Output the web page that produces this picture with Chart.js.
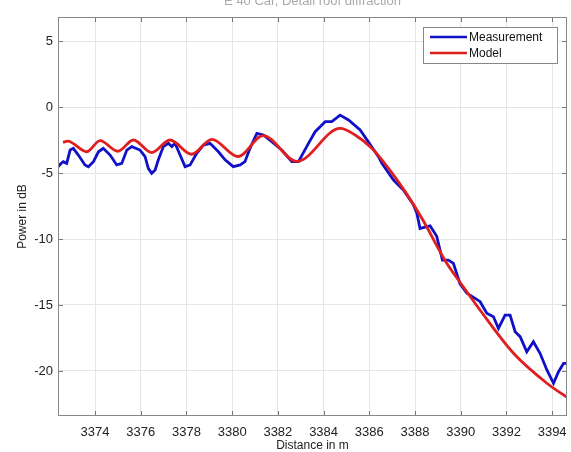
<!DOCTYPE html>
<html>
<head>
<meta charset="utf-8">
<script src="https://cdn.jsdelivr.net/npm/chart.js@4/dist/chart.umd.min.js"></script>
<style>
  html, body { margin: 0; padding: 0; background: #fff; }
  #wrap { width: 571px; height: 452px; }
</style>
</head>
<body>
<div id="wrap"><canvas id="myChart"></canvas></div>
<script>
// distance in m / power in dB
const measX = [3372.39, 3372.5, 3372.61, 3372.76, 3372.91, 3373.05, 3373.27, 3373.56, 3373.71, 3373.93,
    3374.15, 3374.36, 3374.66, 3374.95, 3375.17, 3375.39, 3375.61, 3375.97, 3376.19, 3376.33,
    3376.48, 3376.63, 3376.77, 3376.99, 3377.21, 3377.36, 3377.5, 3377.72, 3377.94, 3378.16,
    3378.45, 3378.74, 3379.03, 3379.4, 3379.69, 3380.05, 3380.35, 3380.56, 3380.78, 3381.08,
    3381.37, 3381.73, 3382.17, 3382.61, 3382.9, 3383.34, 3383.63, 3383.85, 3384.07, 3384.36,
    3384.72, 3385.09, 3385.6, 3386.04, 3386.4, 3386.55, 3387.06, 3387.49, 3387.93, 3388.08,
    3388.22, 3388.44, 3388.66, 3388.95, 3389.2, 3389.46, 3389.68, 3389.97, 3390.27, 3390.63,
    3390.85, 3391.14, 3391.43, 3391.65, 3391.94, 3392.16, 3392.38, 3392.6, 3392.89, 3393.18,
    3393.47, 3393.77, 3394.06, 3394.28, 3394.5, 3394.71];
const measY = [-4.52, -4.3, -4.14, -4.27, -3.26, -3.13, -3.64, -4.39, -4.52, -4.14,
    -3.39, -3.13, -3.64, -4.39, -4.27, -3.26, -3.0, -3.26, -3.76, -4.65,
    -5.02, -4.77, -4.0, -3.0, -2.75, -3.0, -2.75, -3.64, -4.52, -4.39,
    -3.51, -2.88, -2.75, -3.39, -4.0, -4.52, -4.39, -4.14, -3.13, -2.0,
    -2.12, -2.63, -3.26, -4.14, -4.14, -2.75, -1.87, -1.49, -1.11, -1.11,
    -0.61, -0.98, -1.74, -2.85, -3.76, -4.27, -5.53, -6.29, -7.4, -8.05,
    -9.2, -9.1, -9.0, -9.8, -11.6, -11.6, -11.84, -13.4, -14.1, -14.5,
    -14.75, -15.63, -15.89, -16.77, -15.76, -15.76, -17.02, -17.4, -18.54, -17.78,
    -18.66, -19.92, -20.93, -20.05, -19.42, -19.42];

const modelX = [3372.6, 3372.8, 3373.64, 3374.22, 3375.0, 3375.68, 3376.48, 3377.28, 3378.23, 3379.11,
    3380.26, 3381.35, 3382.84, 3384.72, 3385.38, 3386.11, 3386.84, 3387.57, 3388.3, 3389.39,
    3390.0, 3390.85, 3392.31, 3393.77, 3394.71];
const modelY = [-2.68, -2.58, -3.39, -2.55, -3.35, -2.5, -3.45, -2.5, -3.58, -2.45,
    -3.75, -2.17, -4.12, -1.62, -2.12, -3.13, -4.65, -6.41, -8.43, -11.84,
    -13.35, -15.4, -18.66, -20.93, -22.07];

const xTicks = [3374, 3376, 3378, 3380, 3382, 3384, 3386, 3388, 3390, 3392, 3394];
const yTicks = [5, 0, -5, -10, -15, -20];
const seriesNames = ['Measurement', 'Model'];
const seriesColors = ['#1010c8', '#e01e1e'];
const titleText = 'E 40 Car, Detail roof diffraction';

const FONT = "'Liberation Sans', Arial, sans-serif";

document.addEventListener('DOMContentLoaded', function () {
    let toPoints = (xs, ys) => xs.map((x, i) => ({ x: x, y: ys[i] }));

    // box, inner tick marks, legend box and the cut-off title
    const matlabFrame = {
        id: 'matlabFrame',
        afterDatasetsDraw(chart) {
            const ctx = chart.ctx;
            const a = chart.chartArea;
            const xs = chart.scales.x, ys = chart.scales.y;
            ctx.save();
            ctx.strokeStyle = '#777';
            ctx.lineWidth = 1;
            ctx.beginPath();
            xTicks.forEach(v => {
                const p = Math.round(xs.getPixelForValue(v)) + 0.5;
                ctx.moveTo(p, a.bottom); ctx.lineTo(p, a.bottom - 5);
                ctx.moveTo(p, a.top); ctx.lineTo(p, a.top + 5);
            });
            yTicks.forEach(v => {
                const p = Math.round(ys.getPixelForValue(v)) + 0.5;
                ctx.moveTo(a.left, p); ctx.lineTo(a.left + 5, p);
                ctx.moveTo(a.right, p); ctx.lineTo(a.right - 5, p);
            });
            ctx.stroke();
            ctx.strokeStyle = '#888';
            ctx.strokeRect(a.left + 0.5, a.top + 0.5, a.right - a.left - 1, a.bottom - a.top - 1);

            // legend
            const lx = a.right - 144, ly = a.top + 10;
            ctx.fillStyle = '#fff';
            ctx.fillRect(lx, ly, 134, 36);
            ctx.strokeStyle = '#888';
            ctx.strokeRect(lx + 0.5, ly + 0.5, 134, 36);
            ctx.font = '12px ' + FONT;
            ctx.textBaseline = 'middle';
            seriesNames.forEach((name, i) => {
                const y = ly + 10 + i * 16;
                ctx.strokeStyle = seriesColors[i];
                ctx.lineWidth = 2.5;
                ctx.beginPath();
                ctx.moveTo(lx + 7, y); ctx.lineTo(lx + 44, y);
                ctx.stroke();
                ctx.fillStyle = '#111';
                ctx.fillText(name, lx + 46, y + 1);
            });

            ctx.font = '13px ' + FONT;
            ctx.fillStyle = '#aaa';
            ctx.textAlign = 'center';
            ctx.textBaseline = 'alphabetic';
            ctx.fillText(titleText, (a.left + a.right) / 2, 5);
            ctx.restore();
        }
    };

    let ctx = document.getElementById('myChart').getContext('2d');
    let myChart = new Chart(ctx, {
        type: 'line',
        data: {
            datasets: [
                { label: seriesNames[0], data: toPoints(measX, measY), borderColor: seriesColors[0],
                  borderWidth: 2.8, pointRadius: 0, tension: 0, order: 1 },
                { label: seriesNames[1], data: toPoints(modelX, modelY), borderColor: seriesColors[1],
                  borderWidth: 2.8, pointRadius: 0, cubicInterpolationMode: 'monotone', order: 0 }
            ]
        },
        options: {
            responsive: true,
            maintainAspectRatio: false,
            animation: false,
            events: [],
            layout: { padding: { top: 17, right: 4, left: 0, bottom: 0 } },
            scales: {
                x: {
                    type: 'linear', min: 3372.38, max: 3394.65,
                    afterFit: s => { s.height = 36; s.paddingLeft = 0; s.paddingRight = 0; },
                    afterBuildTicks: s => { s.ticks = xTicks.map(v => ({ value: v })); },
                    grid: { color: '#e6e6e6', drawTicks: false },
                    border: { display: false },
                    ticks: { color: '#222', font: { family: FONT, size: 13 }, padding: 9,
                             maxRotation: 0, autoSkip: false, callback: v => String(v) },
                    title: { display: true, text: 'Distance in m', color: '#222',
                             font: { family: FONT, size: 12, lineHeight: 1 }, padding: { top: 0, bottom: 0 } }
                },
                y: {
                    min: -23.41, max: 6.82,
                    afterFit: s => { s.width = 58; s.paddingTop = 0; s.paddingBottom = 0; },
                    afterBuildTicks: s => { s.ticks = yTicks.map(v => ({ value: v })); },
                    grid: { color: '#e6e6e6', drawTicks: false },
                    border: { display: false },
                    ticks: { color: '#222', font: { family: FONT, size: 13 }, padding: 5,
                             callback: v => String(v) },
                    title: { display: true, text: 'Power in dB', color: '#222',
                             font: { family: FONT, size: 12, lineHeight: 1 }, padding: { top: 17, bottom: 0 } }
                }
            },
            plugins: {
                legend: { display: false },
                tooltip: { enabled: false }
            }
        },
        plugins: [matlabFrame]
    });
});
</script>
</body>
</html>
